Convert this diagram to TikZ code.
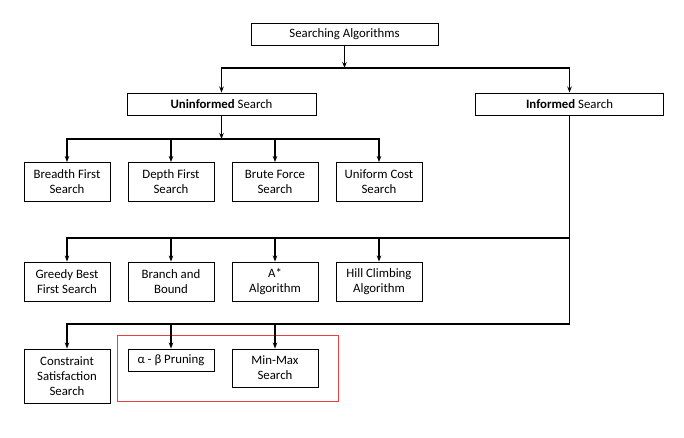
\documentclass[tikz,border=0pt]{standalone}
\usepackage{fontspec}
\setmainfont{Carlito}
\usepackage{xcolor}
\usetikzlibrary{arrows.meta}
\definecolor{hlred}{RGB}{232,64,64}

\tikzset{
  algbox/.style={draw=black, line width=0.9pt, fill=white, align=center, inner sep=0pt,
    minimum width=86pt, minimum height=39pt, font=\fontsize{12.8}{15}\selectfont},
  link/.style={line width=1.1pt, -{Stealth[length=6pt,width=4.5pt]}},
  bare/.style={line width=1.1pt},
}

\begin{document}
\begin{tikzpicture}[x=1pt,y=-1pt]
\useasboundingbox (0,0) rectangle (684,438);

% top of the tree
\node[algbox, minimum width=187pt, minimum height=22pt] (root) at (344.5,34.5) {Searching Algorithms};
\node[algbox, minimum width=189pt, minimum height=22pt] (uninf) at (221.5,104) {\textbf{Uninformed} Search};
\node[algbox, minimum width=188pt, minimum height=22pt] (inf) at (569.5,104) {\textbf{Informed} Search};

% uninformed methods
\node[algbox] (bfs) at (67,182) {Breadth First\\Search};
\node[algbox] (dfs) at (171,182) {Depth First\\Search};
\node[algbox] (brute) at (275,182) {Brute Force\\Search};
\node[algbox] (ucs) at (379,182) {Uniform Cost\\Search};

% informed methods, first row
\node[algbox] (greedy) at (67,281.5) {Greedy Best\\First Search};
\node[algbox] (bnb) at (171,281.5) {Branch and\\Bound};
\node[algbox] (astar) at (275,281.5) {A*\\Algorithm};
\node[algbox] (hill) at (379,281.5) {Hill Climbing\\Algorithm};

% informed methods, second row
\node[algbox, minimum height=54pt] (csp) at (67,376) {Constraint\\Satisfaction\\Search};
\node[algbox, minimum height=22pt] (ab) at (171,360) {α - β Pruning};
\node[algbox, minimum height=38pt] (minmax) at (275,368) {Min-Max\\Search};

% red frame round the game search boxes
\draw[hlred, line width=0.8pt] (117,335) rectangle (338,401);

% junctions of the connectors
\coordinate (j0) at (344.5,68);
\coordinate (j1) at (221.5,139);
\coordinate (j2) at (569.5,238);
\coordinate (j3) at (569.5,324);

% connectors
\draw[link] (root) -- (j0);
\draw[link] (j0) -| (uninf);
\draw[link] (j0) -| (inf);
\draw[link] (uninf) -- (j1);
\foreach \n in {bfs,dfs,brute,ucs}
  \draw[link] (j1) -| (\n);
\draw[bare] (inf) -- (j3);
\foreach \n in {greedy,bnb,astar,hill}
  \draw[link] (j2) -| (\n);
\foreach \n in {csp,ab,minmax}
  \draw[link] (j3) -| (\n);

\end{tikzpicture}
\end{document}
